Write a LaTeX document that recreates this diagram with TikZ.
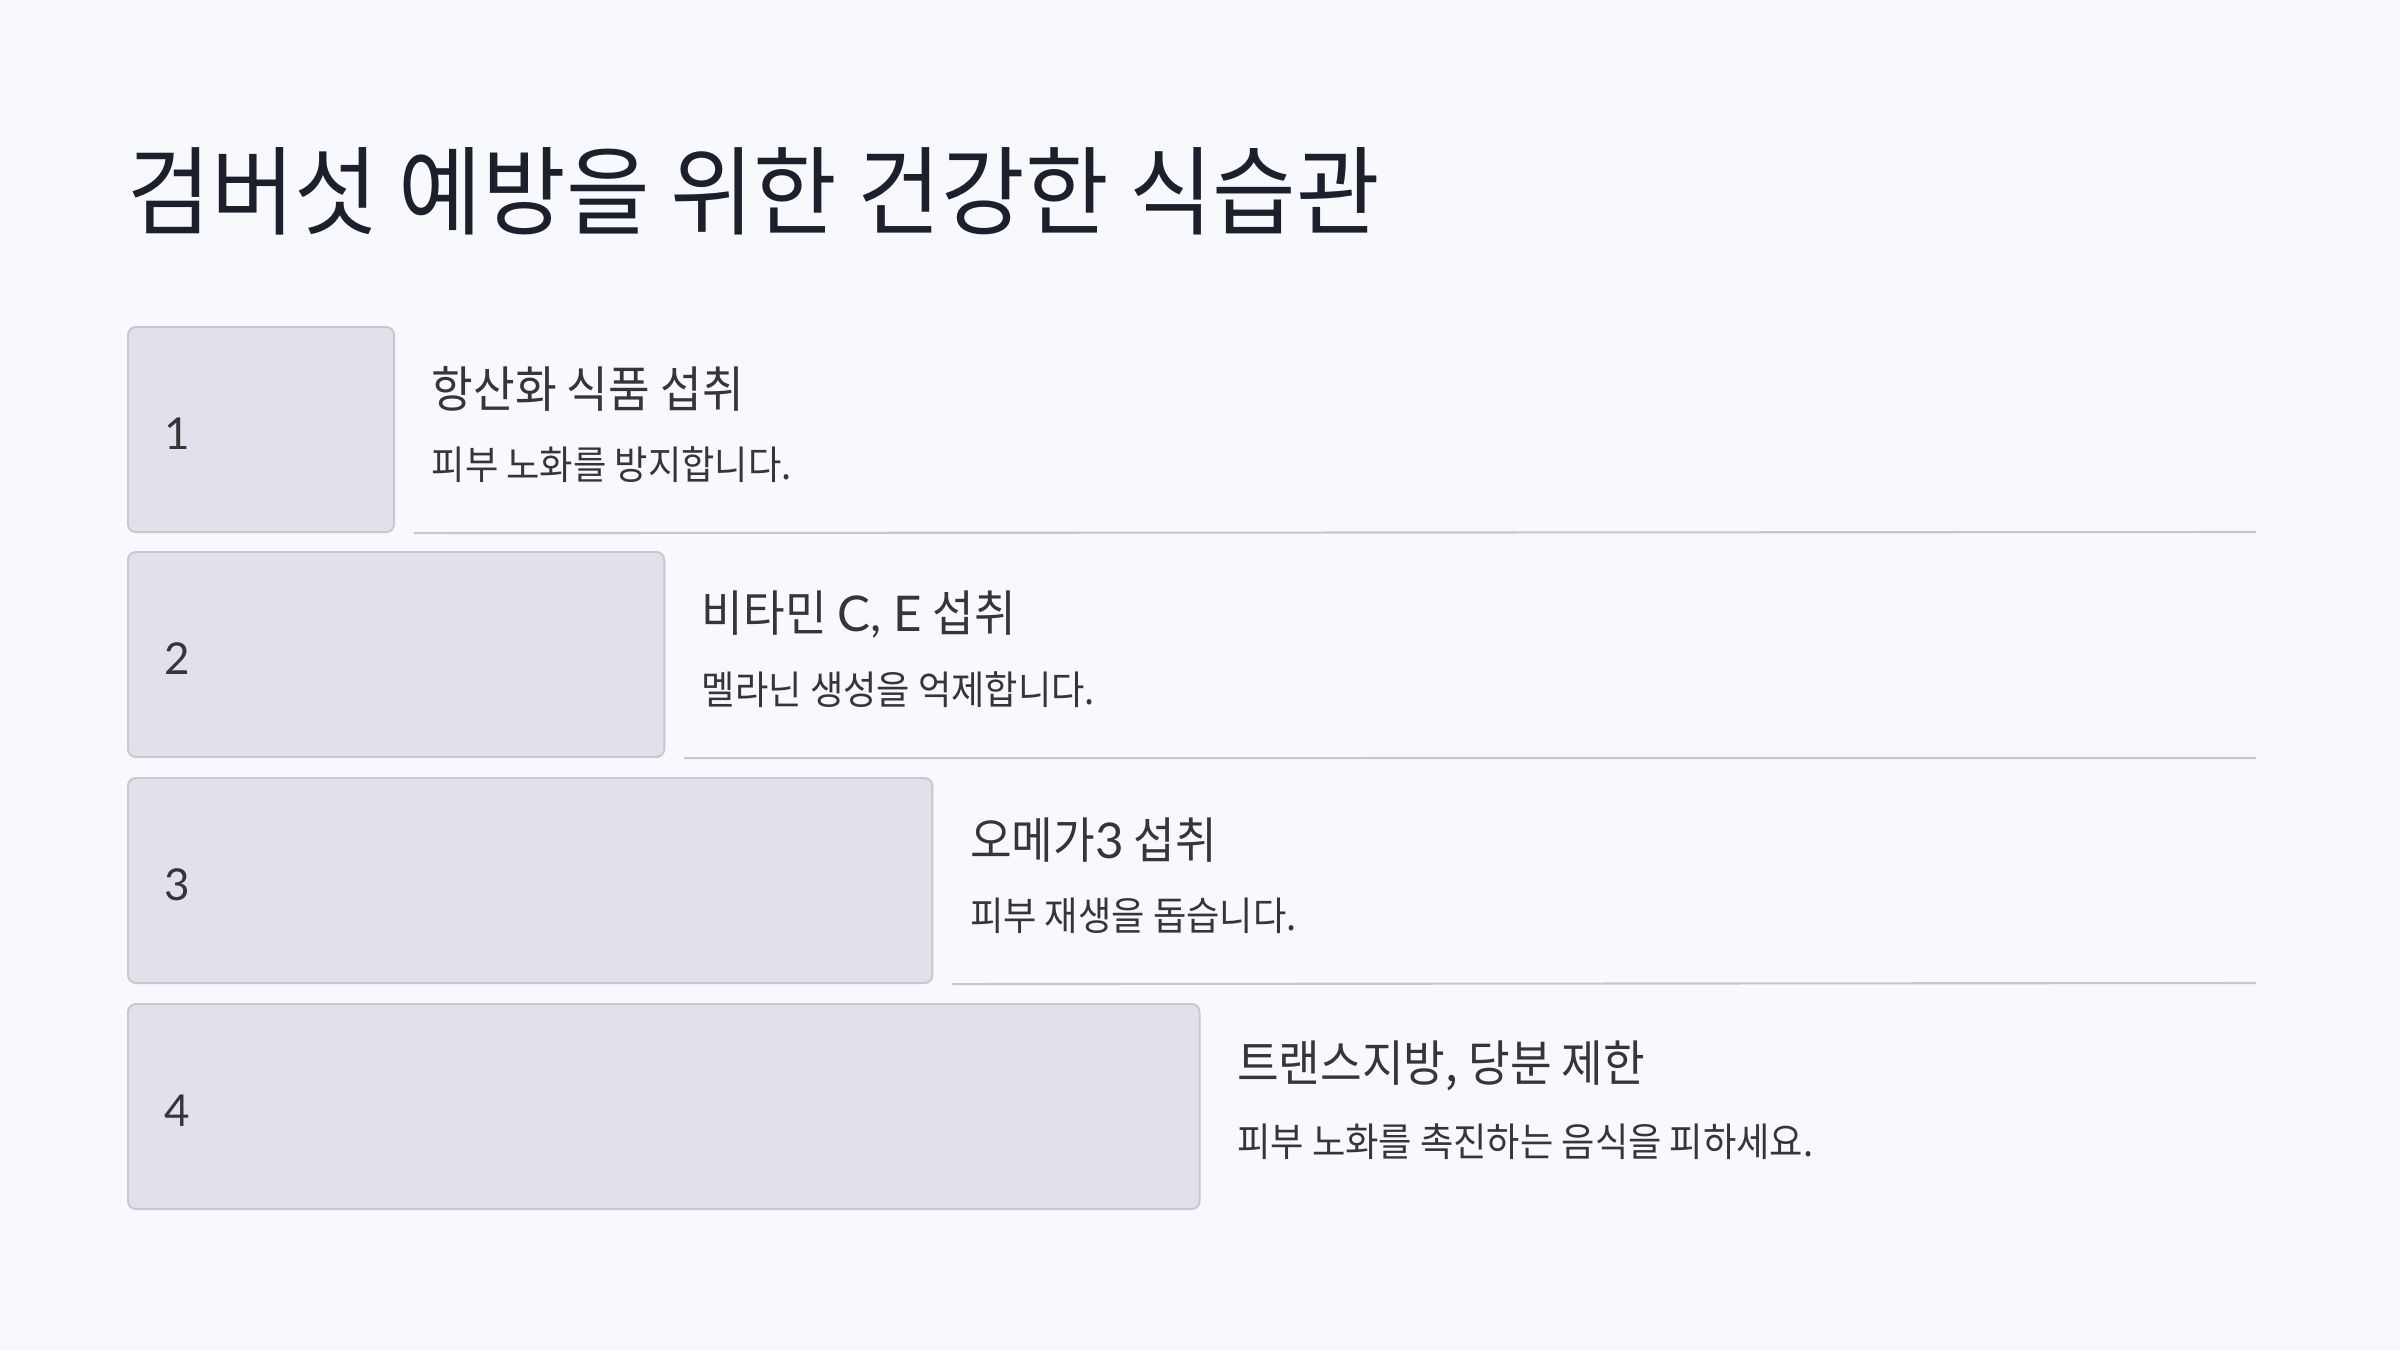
\documentclass[tikz,border=0pt]{standalone}
\usepackage{fontspec}
\setmainfont{Noto Sans CJK KR}[FakeStretch=0.92]
\newfontfamily\titlefont{Noto Sans CJK KR}[FakeStretch=0.94]
\newfontfamily\latfont{Lato}
\usetikzlibrary{positioning}
\definecolor{pagebg}{HTML}{F8F9FC}
\definecolor{boxfill}{HTML}{E0E1EA}
\definecolor{boxline}{HTML}{C8C8D2}
\definecolor{ruleline}{HTML}{C6C6CE}
\definecolor{titlecol}{HTML}{1E1F2C}
\definecolor{textcol}{HTML}{363638}
\tikzset{
  stepbox/.style={draw=boxline,fill=boxfill,line width=0.55pt,rounded corners=0.08cm,
    anchor=north west,minimum height=2.05cm,inner sep=0pt},
  stepnum/.style={anchor=west,inner sep=0pt,text=textcol,font=\latfont\fontsize{12.5}{14}\selectfont},
  headtxt/.style={anchor=west,inner sep=0pt,text=textcol,font=\fontsize{14}{16}\selectfont},
  subtxt/.style={anchor=west,inner sep=0pt,text=textcol,font=\fontsize{11.2}{13}\selectfont},
  sepline/.style={draw=ruleline,line width=0.6pt}
}
\begin{document}
\begin{tikzpicture}[x=0.01cm,y=-0.01cm]
	\fill[pagebg] (0,0) rectangle (2400,1350);
	\node[anchor=west,inner sep=0pt,text=titlecol,font=\titlefont\fontsize{27.5}{30}\selectfont] (ttl) at (127,191) {검버섯 예방을 위한 건강한 식습관};
	% steps
	\node[stepbox,minimum width=2.66cm] (b1) at (127,326) {};
	\node[stepbox,minimum width=5.36cm] (b2) at (127,551) {};
	\node[stepbox,minimum width=8.04cm] (b3) at (127,777) {};
	\node[stepbox,minimum width=10.71cm] (b4) at (127,1003) {};
	\node[stepnum] (n1) at ([xshift=0.37cm,yshift=-0.04cm]b1.west) {1};
	\node[stepnum] (n2) at ([xshift=0.37cm,yshift=-0.04cm]b2.west) {2};
	\node[stepnum] (n3) at ([xshift=0.37cm,yshift=-0.04cm]b3.west) {3};
	\node[stepnum] (n4) at ([xshift=0.37cm,yshift=-0.04cm]b4.west) {4};
	% texts
	\node[headtxt] (h1) at ([xshift=0.36cm,yshift=-0.63cm]b1.north east) {항산화 식품 섭취};
	\node[subtxt] (s1) at ([xshift=0.36cm,yshift=-1.39cm]b1.north east) {피부 노화를 방지합니다.};
	\node[headtxt] (h2) at ([xshift=0.36cm,yshift=-0.63cm]b2.north east) {비타민 {\latfont C, E} 섭취};
	\node[subtxt] (s2) at ([xshift=0.36cm,yshift=-1.39cm]b2.north east) {멜라닌 생성을 억제합니다.};
	\node[headtxt] (h3) at ([xshift=0.36cm,yshift=-0.63cm]b3.north east) {오메가{\latfont 3} 섭취};
	\node[subtxt] (s3) at ([xshift=0.36cm,yshift=-1.39cm]b3.north east) {피부 재생을 돕습니다.};
	\node[headtxt] (h4) at ([xshift=0.36cm,yshift=-0.63cm]b4.north east) {트랜스지방, 당분 제한};
	\node[subtxt] (s4) at ([xshift=0.36cm,yshift=-1.39cm]b4.north east) {피부 노화를 촉진하는 음식을 피하세요.};
	% rules
	\coordinate (e1) at (2256,532);
	\coordinate (e2) at (2256,758);
	\coordinate (e3) at (2256,983);
	\draw[sepline] ([xshift=0.19cm]b1.south east) -- (e1);
	\draw[sepline] ([xshift=0.19cm]b2.south east) -- (e2);
	\draw[sepline] ([xshift=0.19cm]b3.south east) -- (e3);
\end{tikzpicture}
\end{document}
